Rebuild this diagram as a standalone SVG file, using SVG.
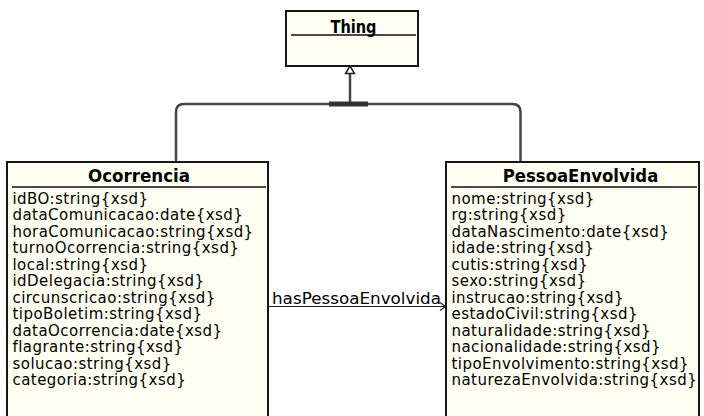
<svg xmlns="http://www.w3.org/2000/svg" width="704" height="416" viewBox="0 0 704 416">
  <style>
    .box { fill: #fffff2; stroke: #161616; stroke-width: 2; }
    .sep { stroke: #4a4a4a; stroke-width: 2; }
    .title { font-family: "DejaVu Sans", Verdana, sans-serif; font-weight: bold; font-size: 17px; fill: #000; text-anchor: middle; }
    .attr { font-family: "DejaVu Sans", Verdana, sans-serif; font-size: 15px; letter-spacing: 0.45px; fill: #000; }
    .gen { fill: none; stroke: #454545; stroke-width: 2.5; }
    .assoc { fill: none; stroke: #222; stroke-width: 1.2; }
    .label { font-family: "DejaVu Sans", Verdana, sans-serif; font-size: 15px; fill: #000; }
  </style>
  <rect width="704" height="416" fill="#ffffff"/>

  <!-- connectors -->
  <g id="connectors">
    <!-- generalization tree towards Thing -->
    <path class="gen" d="M176,162 V112 Q176,104 184,104 H512.5 Q520.5,104 520.5,112 V162"/>
    <line class="gen" x1="350" y1="104" x2="350" y2="73"/>
    <polygon points="350,66 345.5,73.5 354.5,73.5" fill="#ffffff" stroke="#222" stroke-width="1.5"/>
    <rect x="329" y="101.5" width="39" height="5" fill="#333333"/>
    <!-- association hasPessoaEnvolvida -->
    <line class="assoc" x1="268" y1="306.5" x2="445" y2="306.5"/>
    <polyline class="assoc" points="440,302.5 445.5,306.5 440,310.5"/>
    <text class="label" x="272" y="304" textLength="169" lengthAdjust="spacingAndGlyphs">hasPessoaEnvolvida</text>
  </g>

  <!-- Thing -->
  <g id="thing">
    <rect class="box" x="286" y="11" width="132" height="55"/>
    <line class="sep" x1="291" y1="35" x2="416" y2="35"/>
    <text class="title" x="353.5" y="33" font-size="15.5" textLength="46" lengthAdjust="spacingAndGlyphs">Thing</text>
  </g>

  <!-- Ocorrencia -->
  <g id="ocorrencia">
    <rect class="box" x="7" y="162" width="261" height="270"/>
    <line class="sep" x1="12" y1="187" x2="266" y2="187"/>
    <text class="title" x="139" y="182" textLength="102" lengthAdjust="spacingAndGlyphs">Ocorrencia</text>
    <text class="attr" x="12.5" y="204">idBO:string{xsd}</text>
    <text class="attr" x="12.5" y="220.45">dataComunicacao:date{xsd}</text>
    <text class="attr" x="12.5" y="236.9">horaComunicacao:string{xsd}</text>
    <text class="attr" x="12.5" y="253.35">turnoOcorrencia:string{xsd}</text>
    <text class="attr" x="12.5" y="269.8">local:string{xsd}</text>
    <text class="attr" x="12.5" y="286.25">idDelegacia:string{xsd}</text>
    <text class="attr" x="12.5" y="302.7">circunscricao:string{xsd}</text>
    <text class="attr" x="12.5" y="319.15">tipoBoletim:string{xsd}</text>
    <text class="attr" x="12.5" y="335.6">dataOcorrencia:date{xsd}</text>
    <text class="attr" x="12.5" y="352.05">flagrante:string{xsd}</text>
    <text class="attr" x="12.5" y="368.5">solucao:string{xsd}</text>
    <text class="attr" x="12.5" y="384.95">categoria:string{xsd}</text>
  </g>

  <!-- PessoaEnvolvida -->
  <g id="pessoaEnvolvida">
    <rect class="box" x="446" y="162" width="253" height="270"/>
    <line class="sep" x1="451" y1="187" x2="697" y2="187"/>
    <text class="title" x="580.5" y="182" textLength="155.6" lengthAdjust="spacingAndGlyphs">PessoaEnvolvida</text>
    <text class="attr" x="451.5" y="204">nome:string{xsd}</text>
    <text class="attr" x="451.5" y="220.45">rg:string{xsd}</text>
    <text class="attr" x="451.5" y="236.9">dataNascimento:date{xsd}</text>
    <text class="attr" x="451.5" y="253.35">idade:string{xsd}</text>
    <text class="attr" x="451.5" y="269.8">cutis:string{xsd}</text>
    <text class="attr" x="451.5" y="286.25">sexo:string{xsd}</text>
    <text class="attr" x="451.5" y="302.7">instrucao:string{xsd}</text>
    <text class="attr" x="451.5" y="319.15">estadoCivil:string{xsd}</text>
    <text class="attr" x="451.5" y="335.6">naturalidade:string{xsd}</text>
    <text class="attr" x="451.5" y="352.05">nacionalidade:string{xsd}</text>
    <text class="attr" x="451.5" y="368.5">tipoEnvolvimento:string{xsd}</text>
    <text class="attr" x="451.5" y="384.95">naturezaEnvolvida:string{xsd}</text>
  </g>
</svg>
